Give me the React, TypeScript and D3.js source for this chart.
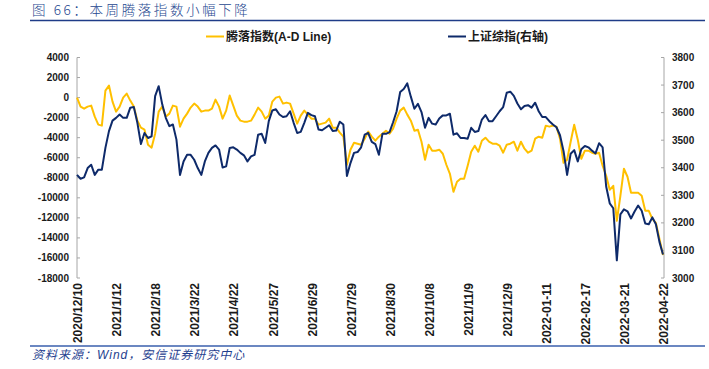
import React from 'react';
import * as d3 from 'd3';

const xTickLabels = [
  '2020/12/10', '2021/1/12', '2021/2/18', '2021/3/22', '2021/4/22', '2021/5/27',
  '2021/6/29', '2021/7/29', '2021/8/30', '2021/10/8', '2021/11/9', '2021/12/9',
  '2022-01-11', '2022-02-17', '2022-03-21', '2022-04-22',
];

// A-D Line, sampled every 2 trading days
const adValues = [
  0, -900, -1100, -900, -800, -1900, -2700, -2800, 700, 1200,
  -400, -1400, -900, 0, 400, -300, -900, -2300, -3000, -3200,
  -4700, -5000, -3600, -1400, -900, -1900, -1600, -800, -900, -2900,
  -2100, -1600, -1000, -600, -900, -1400, -1300, -1300, -1100, -200,
  -900, -2100, -1300, 200, -800, -1800, -2300, -2400, -2400, -2300,
  -1700, -1000, -1400, -2100, -1800, -400,
  0, 100, -600, -500, -600, -1600, -2600, -1800, -1300, -1700,
  -2100, -2100, -2700, -2600, -2500, -2100, -3000, -3000, -3500, -3900,
  -6700, -5200, -4500, -4600, -4700, -4100, -3400, -3900, -4300, -3900,
  -3600, -3300, -3600, -3100, -2100, -1300, -1000, -1700, -2300, -3300,
  -3200, -4400, -6200, -4700, -5300, -5300, -5200, -5600, -6700, -7600,
  -9400, -8400, -8100, -8100, -6800,
  -5400, -4800, -5400, -4300, -4000, -4400, -4600, -4600, -4800, -5500,
  -4700, -4600, -4400, -5300, -4400, -5100, -5500, -5300, -4100, -3900,
  -4000, -2800, -2900, -2800, -2900, -4100, -6500, -6200, -4400, -2700,
  -4200, -6100, -5300, -5300, -5500, -5600, -5500, -6800, -7800, -9200,
  -8800, -12300, -9800, -7100, -7900, -9500, -9500, -9500, -9800, -11300,
  -11300, -12100, -12500, -14100, -15700,
];

// Shanghai Composite (right axis), sampled every 2 trading days
const sseValues = [
  3374, 3360, 3365, 3399, 3411, 3374, 3393, 3393, 3472, 3533,
  3571, 3581, 3593, 3581, 3581, 3618, 3620, 3563, 3486, 3526,
  3508, 3514, 3660, 3696, 3630, 3581, 3551, 3557, 3502, 3374,
  3423, 3447, 3447, 3429, 3399, 3374, 3423, 3454, 3472, 3481,
  3466, 3401, 3405, 3472, 3474, 3466, 3454, 3445, 3423, 3441,
  3447, 3520, 3523, 3490, 3569, 3608,
  3612, 3593, 3584, 3587, 3605, 3563, 3526, 3530, 3563, 3599,
  3591, 3587, 3539, 3536, 3545, 3554, 3533, 3535, 3567, 3557,
  3370, 3417, 3454, 3457, 3474, 3520, 3526, 3494, 3486, 3447,
  3523, 3523, 3529, 3565, 3605, 3675, 3686, 3706, 3658, 3614,
  3632, 3602, 3545, 3581, 3560, 3557, 3579, 3590, 3590, 3596,
  3520, 3525, 3508, 3508, 3505,
  3545, 3530, 3533, 3575, 3591, 3569, 3569, 3587, 3605, 3620,
  3672, 3676, 3661, 3633, 3612, 3624, 3627, 3618, 3636, 3605,
  3584, 3584, 3569, 3557, 3547, 3518, 3460, 3374, 3451, 3464,
  3423, 3467, 3479, 3474, 3462, 3452, 3489, 3474, 3332, 3271,
  3253, 3064, 3231, 3249, 3242, 3216, 3241, 3263, 3244, 3198,
  3195, 3220, 3195, 3131, 3085,
];

const leftTicks = [4000, 2000, 0, -2000, -4000, -6000, -8000, -10000, -12000, -14000, -16000, -18000];
const rightTicks = [3800, 3700, 3600, 3500, 3400, 3300, 3200, 3100, 3000];

const DAYS_PER_LABEL = 22;
const SAMPLE_STEP = 2;

const YELLOW = '#FFC000';
const NAVY = '#0E2A6A';
const AXIS = '#A6A6A6';
const FONT = '"Liberation Sans", Arial, "Noto Sans CJK SC", sans-serif';

export default function App() {
  const W = 709;
  const H = 369;
  const left = 77;
  const right = 663;
  const top = 57.5;
  const bottom = 278;
  const nDays = (xTickLabels.length - 1) * DAYS_PER_LABEL;

  const x = d3.scaleLinear().domain([0, nDays]).range([left, right]);
  const yL = d3.scaleLinear().domain([-18000, 4000]).range([bottom, top]);
  const yR = d3.scaleLinear().domain([3000, 3800]).range([bottom, top]);

  const adLine = d3
    .line<number>()
    .x((_, i) => x(i * SAMPLE_STEP))
    .y((d) => yL(d));
  const sseLine = d3
    .line<number>()
    .x((_, i) => x(i * SAMPLE_STEP))
    .y((d) => yR(d));

  return (
    <svg
      width={W}
      height={H}
      viewBox={`0 0 ${W} ${H}`}
      style={{ position: 'absolute', left: 0, top: 0, background: '#fff' }}
    >
      <rect x={0} y={0} width={W} height={H} fill="#fff" />
      {/* Title */}
      <text
        x={32}
        y={15}
        fontFamily='"Noto Sans CJK SC", sans-serif'
        fontSize={13.5}
        fontWeight={300}
        letterSpacing={2.6}
        fill="#26478F"
      >
        图 66：本周腾落指数小幅下降
      </text>
      <line x1={30} x2={705} y1={20.5} y2={20.5} stroke="#1F3C88" strokeWidth={1.5} />

      {/* Legend */}
      <line x1={206} x2={224} y1={36.5} y2={36.5} stroke={YELLOW} strokeWidth={2} />
      <text x={226} y={41} fontFamily={FONT} fontSize={12} fontWeight="bold" fill="#1a1a1a">
        腾落指数(A-D Line)
      </text>
      <line x1={448} x2={466} y1={36.5} y2={36.5} stroke={NAVY} strokeWidth={2} />
      <text x={468} y={41} fontFamily={FONT} fontSize={12} fontWeight="bold" fill="#1a1a1a">
        上证综指(右轴)
      </text>

      {/* Left axis */}
      <line x1={left} x2={left} y1={top} y2={bottom} stroke={AXIS} strokeWidth={1} />
      {leftTicks.map((t) => (
        <g key={`l${t}`}>
          <line x1={left} x2={left + 3} y1={yL(t)} y2={yL(t)} stroke={AXIS} strokeWidth={1} />
          <text
            x={69}
            y={yL(t)}
            dy="0.35em"
            textAnchor="end"
            fontFamily={FONT}
            fontSize={10}
            fontWeight="bold"
            fill="#1a1a1a"
          >
            {t}
          </text>
        </g>
      ))}

      {/* Right axis */}
      <line x1={right + 1} x2={right + 1} y1={top} y2={bottom} stroke={AXIS} strokeWidth={1} />
      {rightTicks.map((t) => (
        <g key={`r${t}`}>
          <line x1={right - 2} x2={right + 1} y1={yR(t)} y2={yR(t)} stroke={AXIS} strokeWidth={1} />
          <text
            x={672}
            y={yR(t)}
            dy="0.35em"
            textAnchor="start"
            fontFamily={FONT}
            fontSize={10}
            fontWeight="bold"
            fill="#1a1a1a"
          >
            {t}
          </text>
        </g>
      ))}

      {/* X labels */}
      {xTickLabels.map((lab, j) => {
        const px = x(j * DAYS_PER_LABEL) + 1;
        return (
          <text
            key={lab}
            transform={`translate(${px},283) rotate(-90)`}
            textAnchor="end"
            dy="0.35em"
            fontFamily={FONT}
            fontSize={12}
            fontWeight="bold"
            fill="#1a1a1a"
          >
            {lab}
          </text>
        );
      })}

      {/* Series */}
      <path d={adLine(adValues) || ''} fill="none" stroke={YELLOW} strokeWidth={2} strokeLinejoin="round" />
      <path d={sseLine(sseValues) || ''} fill="none" stroke={NAVY} strokeWidth={2} strokeLinejoin="round" />

      {/* Source */}
      <line x1={30} x2={705} y1={346} y2={346} stroke="#3A5FAD" strokeWidth={1.5} />
      <text
        x={32}
        y={359}
        fontFamily={FONT}
        fontSize={12}
        fontStyle="italic"
        letterSpacing={1}
        fill="#1F3F8F"
      >
        资料来源：Wind，安信证券研究中心
      </text>
    </svg>
  );
}
